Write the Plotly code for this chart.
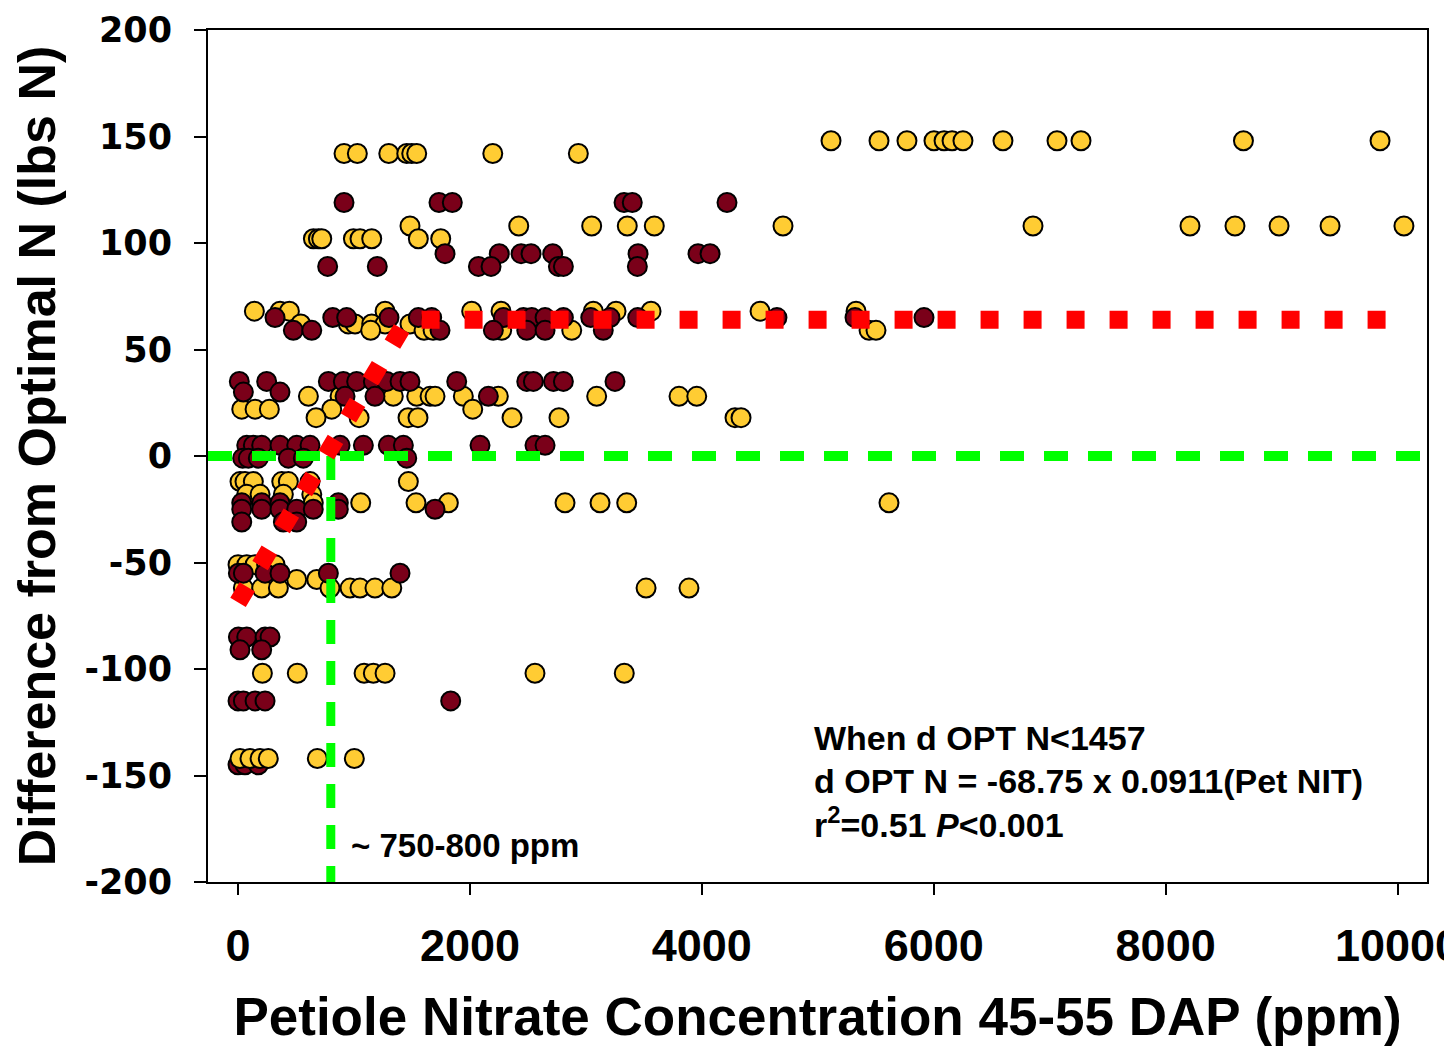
import plotly.graph_objects as go

# ---------------- data ----------------
gold_x = [
    5114, 5528, 5769, 6002, 6089, 6158, 6252, 6597, 7063, 7270, 8671, 9849,
    914, 1029, 1300, 1455, 1498, 1541, 2197, 2935,
    1483, 2421, 3050, 3357, 3590, 4700, 6856, 8210, 8598, 8978, 9418, 10055,
    650, 693, 722, 995, 1052, 1153, 1555, 1748,
    141, 362, 443, 1268, 2015, 2268, 3064, 3260, 3562, 4502, 5330,
    541, 951, 1009, 1153, 1268, 1483,
    1144, 1604, 1682, 2274, 2878, 5442, 5502,
    607, 880, 1339, 1541, 1656, 1699, 1943, 2245, 3093, 3803, 3956,
    32, 147, 270, 808, 2024,
    673, 1044, 1466, 1552, 2363, 2768, 4286, 4338,
    17, 60, 132, 377, 434, 621, 1469,
    75, 190, 391, 636,
    649, 1058, 1535, 1814, 2820, 3122, 3352, 5614,
    0, 75, 147, 247, 319,
    506, 679,
    46, 204, 348, 793, 966, 1052, 1181, 1326, 3519, 3889,
    210, 511, 1087, 1167, 1268, 2561, 3331,
    17, 103, 190, 261, 684, 1003,
]
gold_y = (
    [148] * 12 + [142] * 8 + [108] * 12 + [102] * 8 + [68] * 11 + [62] * 6
    + [59] * 7 + [28] * 11 + [22] * 5 + [18] * 8 + [-12] * 7 + [-18] * 4
    + [-22] * 8 + [-51] * 5 + [-58] * 2 + [-62] * 10 + [-102] * 7 + [-142] * 6
)

maroon_x = [
    914, 1733, 1848, 3329, 3400, 4217,
    1785, 2253, 2441, 2527, 2714, 3450, 3967, 4071,
    773, 1201, 2073, 2182, 2763, 2806, 3444,
    319, 817, 937, 1302, 1555, 1670, 2288, 2461, 2533, 2648, 2806, 3042, 3208, 3447, 4648, 5321, 5916,
    477, 636, 1742, 2202, 2490, 2648, 3150,
    11, 247, 779, 908, 1023, 1167, 1282, 1397, 1483, 1886, 2490, 2547, 2720, 2806, 3251,
    46, 362,
    923, 1181, 2159,
    75, 132, 204, 362, 506, 621, 880, 1081, 1296, 1426, 2087, 2561, 2648,
    40, 89, 175, 434, 563, 1455,
    32, 204, 362, 865,
    32, 204, 362, 506, 649, 865, 1699,
    32, 391, 506,
    3, 46, 233, 362, 779, 1397,
    3, 75, 233, 276,
    17, 204,
    0, 46, 147, 233, 1834,
    0, 60, 175,
]
maroon_y = (
    [119] * 6 + [95] * 8 + [89] * 7 + [65] * 17 + [59] * 7 + [35] * 15
    + [30] * 2 + [28] * 3 + [5] * 13 + [-1] * 6 + [-22] * 4 + [-25] * 7
    + [-31] * 3 + [-55] * 6 + [-85] * 4 + [-91] * 2 + [-115] * 5 + [-145] * 3
)

# regression (linear-plateau) line
fit_x = [0, 1457, 10000]
fit_y = [-68.75, 64, 64]

# reference lines
zero_y = 0
threshold_x = 800

x_range = [-259, 10254]
y_range = [-200, 200]
x_ticks = [0, 2000, 4000, 6000, 8000, 10000]
x_tick_text = ["0", "2000", "4000", "6000", "8000", "10000"]
y_ticks = [200, 150, 100, 50, 0, -50, -100, -150, -200]
y_tick_text = ["200", "150", "100", "50", "0", "-50", "-100", "-150", "-200"]

eq_lines = [
    "When d OPT N&lt;1457",
    "d OPT N = -68.75 x 0.0911(Pet NIT)",
    "r<sup>2</sup>=0.51 <i>P</i>&lt;0.001",
]
eq_line_y = [-132.4, -152.6, -172.0]

GOLD = "#FFCC33"
MAROON = "#7A0019"
FONT = "Liberation Sans, Arial, sans-serif"

fig = go.Figure()

marker_common = dict(size=19, line=dict(color="black", width=2))

# maroon points lying under the gold ones at the bottom row
under = [(x, y) for x, y in zip(maroon_x, maroon_y) if y < -140]
over = [(x, y) for x, y in zip(maroon_x, maroon_y) if y >= -140]

fig.add_trace(go.Scatter(
    x=[p[0] for p in under], y=[p[1] for p in under], mode="markers",
    marker=dict(color=MAROON, **marker_common), showlegend=False))
fig.add_trace(go.Scatter(
    x=gold_x, y=gold_y, mode="markers",
    marker=dict(color=GOLD, **marker_common), showlegend=False))
fig.add_trace(go.Scatter(
    x=[p[0] for p in over], y=[p[1] for p in over], mode="markers",
    marker=dict(color=MAROON, **marker_common), showlegend=False))

# green dashed reference lines
fig.add_trace(go.Scatter(
    x=x_range, y=[zero_y, zero_y], mode="lines",
    line=dict(color="#00FF00", width=10, dash="24px,20px"),
    showlegend=False, hoverinfo="skip"))
fig.add_trace(go.Scatter(
    x=[threshold_x, threshold_x], y=[zero_y, y_range[0]], mode="lines",
    line=dict(color="#00FF00", width=9, dash="24px,17px"),
    showlegend=False, hoverinfo="skip"))

# red dotted linear-plateau fit
fig.add_trace(go.Scatter(
    x=fit_x, y=fit_y, mode="lines",
    line=dict(color="#FF0000", width=18, dash="18px,25px"),
    showlegend=False, hoverinfo="skip"))

fig.add_annotation(
    x=960, y=-182.7, xref="x", yref="y", xanchor="left", yanchor="middle",
    text="~ 750-800 ppm", showarrow=False, align="left",
    font=dict(family=FONT, size=33, color="black", weight="bold"))
for txt, yy in zip(eq_lines, eq_line_y):
    fig.add_annotation(
        x=4950, y=yy, xref="x", yref="y", xanchor="left", yanchor="middle",
        text=txt, showarrow=False, align="left",
        font=dict(family=FONT, size=34, color="black", weight="bold"))

fig.update_layout(
    width=1444, height=1046,
    margin=dict(l=208, r=17, t=30, b=164, autoexpand=False),
    paper_bgcolor="white", plot_bgcolor="white",
    showlegend=False,
    xaxis=dict(
        range=x_range, tickvals=x_ticks, ticktext=x_tick_text,
        ticks="outside", ticklen=11, tickwidth=2, tickcolor="black",
        showline=True, linecolor="black", linewidth=2, mirror=True,
        showgrid=False, zeroline=False, ticklabelstandoff=12,
        ticklabeloverflow="allow", automargin=False,
        tickfont=dict(family=FONT, size=45, color="black", weight="bold"),
        title=dict(text="Petiole Nitrate Concentration 45-55 DAP (ppm)",
                   font=dict(family=FONT, size=53, color="black", weight="bold"),
                   standoff=32),
    ),
    yaxis=dict(
        range=y_range, tickvals=y_ticks, ticktext=y_tick_text,
        ticks="outside", ticklen=12, tickwidth=2, tickcolor="black",
        showline=True, linecolor="black", linewidth=2, mirror=True,
        showgrid=False, zeroline=False, ticklabelstandoff=15,
        ticklabeloverflow="allow", automargin=False,
        tickfont=dict(family="DejaVu Sans", size=35, color="black", weight="bold"),
        title=dict(text="Difference from Optimal N (lbs N)",
                   font=dict(family=FONT, size=52, color="black", weight="bold"),
                   standoff=12),
    ),
)

fig.write_html("out.html")
